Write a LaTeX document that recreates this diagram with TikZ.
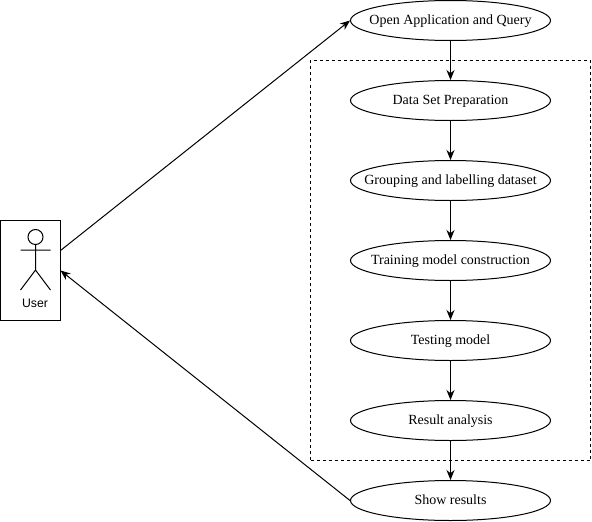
\documentclass[tikz,border=0pt]{standalone}
\usepackage{fontspec}
\setmainfont{Liberation Serif}
\newfontfamily\usersans{Liberation Sans}
\newcommand{\zt}[1]{\makebox[0pt]{\raisebox{-3pt}[0pt][0pt]{#1}}}
\usetikzlibrary{arrows.meta,shapes.geometric}
\begin{document}
\begin{tikzpicture}[x=0.75pt,y=-0.75pt,
  every path/.style={line width=0.75pt,black},
  proc/.style={draw,ellipse,minimum width=150pt,minimum height=30pt,inner sep=0pt,font=\fontsize{10.5pt}{12pt}\selectfont},
  flow/.style={draw,-{Stealth[length=7.5pt,width=6pt]}},
  frame/.style={draw,dashed,dash pattern=on 2.25pt off 2.25pt,minimum width=210pt,minimum height=300pt,inner sep=0pt},
  actorbox/.style={draw,minimum width=45pt,minimum height=75pt,inner sep=0pt},
  actorlabel/.style={font=\usersans\fontsize{9.2pt}{11pt}\selectfont,inner sep=0pt}]
\useasboundingbox (0,0) rectangle (592,521);
\node[frame] (group) at (450.5,260.5) {};
\node[actorbox] (user) at (30.5,270.5) {};
\node[actorlabel] (userlabel) at (35,303.5) {User};
\draw (35.5,237) circle (7.5);
\draw (35.5,244.5) -- (35.5,270) (20.5,250) -- (50.5,250) (20.5,290) -- (35.5,270) -- (50.5,290);
\node[proc] (open) at (450.5,20.5) {\zt{Open Application and Query}};
\node[proc] (data) at (450.5,100.5) {\zt{Data Set Preparation}};
\node[proc] (group1) at (450.5,180.5) {\zt{Grouping and labelling dataset}};
\node[proc] (train) at (450.5,260.5) {\zt{Training model construction}};
\node[proc] (test) at (450.5,340.5) {\zt{Testing model}};
\node[proc] (result) at (450.5,420.5) {\zt{Result analysis}};
\node[proc] (show) at (450.5,500.5) {\zt{Show results}};
\coordinate (uout) at (60.5,250.5);
\coordinate (uin) at (60.5,270.5);
\draw[flow] (uout) -- (open.west);
\draw[flow] (show.west) -- (uin);
\draw[flow] (open) -- (data);
\draw[flow] (data) -- (group1);
\draw[flow] (group1) -- (train);
\draw[flow] (train) -- (test);
\draw[flow] (test) -- (result);
\draw[flow] (result) -- (show);
\end{tikzpicture}
\end{document}
